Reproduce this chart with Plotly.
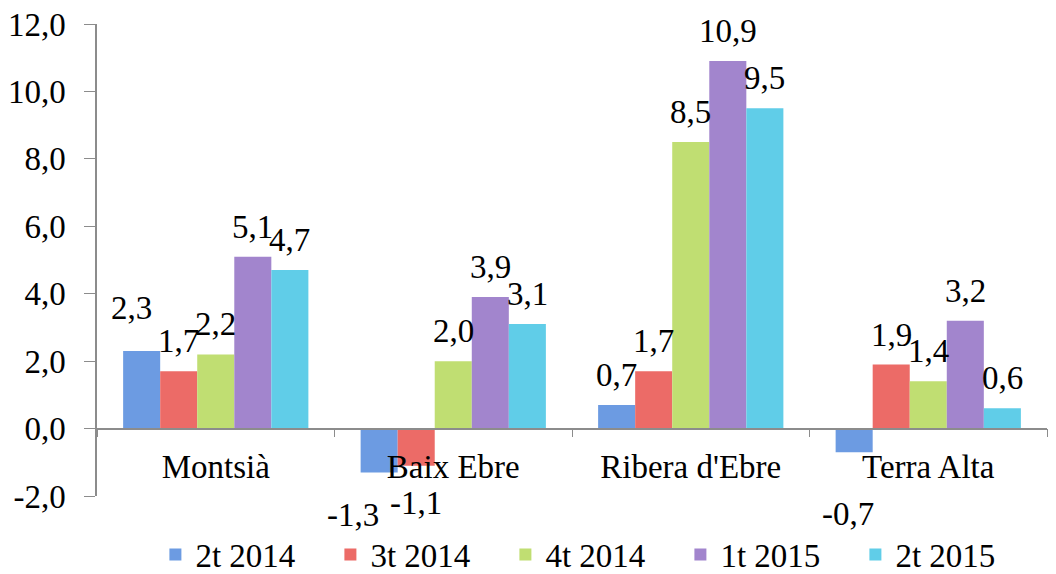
import plotly.graph_objects as go

categories = ["Montsià", "Baix Ebre", "Ribera d'Ebre", "Terra Alta"]
series_names = ["2t 2014", "3t 2014", "4t 2014", "1t 2015", "2t 2015"]
s_2t2014 = [2.3, -1.3, 0.7, -0.7]
s_3t2014 = [1.7, -1.1, 1.7, 1.9]
s_4t2014 = [2.2, 2.0, 8.5, 1.4]
s_1t2015 = [5.1, 3.9, 10.9, 3.2]
s_2t2015 = [4.7, 3.1, 9.5, 0.6]
y_ticks = [-2, 0, 2, 4, 6, 8, 10, 12]

series = [s_2t2014, s_3t2014, s_4t2014, s_1t2015, s_2t2015]
colors = ["#6c9be2", "#ec6b67", "#c0de72", "#a285cd", "#60cde8"]

# label nudges (px) where the original moved a data label away from its default spot
label_nudge = {(0, 0): (-10, -13), (0, 1): (-26, 6), (0, 3): (-6, 25)}

FONT = "Liberation Serif"
FS = 33
# page body has an 8px default margin; size the figure to fit the 1056x574 window
W, H = 1048, 566
ML, MR, MT, MB = 89, 9, 16, 78
BARGAP = 0.22


def fmt(v):
    return f"{v:.1f}".replace(".", ",")


fig = go.Figure()
for name, vals, c in zip(series_names, series, colors):
    fig.add_trace(go.Bar(
        x=categories, y=vals, name=name,
        marker=dict(color=c, line=dict(width=0)),
    ))

plot_w = W - ML - MR
cat_w = plot_w / len(categories)
bar_w = cat_w * (1 - BARGAP) / len(series)

annotations = []
for i, vals in enumerate(series):
    for j, (cat, v) in enumerate(zip(categories, vals)):
        pos = v >= 0
        dx, dy = label_nudge.get((i, j), (0, 0))
        annotations.append(dict(
            x=cat, y=v, xref="x", yref="y", text=fmt(v), showarrow=False,
            xshift=(i - (len(series) - 1) / 2) * bar_w + dx,
            yshift=(30 if pos else -37) - dy,
            yanchor="middle", xanchor="center",
            font=dict(family=FONT, size=FS, color="#000"),
        ))

ymin, ymax = -2, 12
fig.update_layout(
    width=W, height=H,
    margin=dict(l=ML, r=MR, t=MT, b=MB, autoexpand=False),
    paper_bgcolor="white", plot_bgcolor="white",
    barmode="group", bargap=BARGAP, bargroupgap=0,
    font=dict(family=FONT, size=FS, color="#000"),
    annotations=annotations,
    showlegend=True,
    legend=dict(orientation="h", x=0.522, xanchor="center", y=-0.124, yanchor="middle",
                font=dict(family=FONT, size=FS), entrywidth=130, entrywidthmode="pixels",
                itemclick=False),
    xaxis=dict(
        anchor="free", position=(0 - ymin) / (ymax - ymin), automargin=False,
        showline=True, linecolor="#8c8c8c", linewidth=1.5,
        ticks="outside", tickson="boundaries", ticklen=8, tickcolor="#8c8c8c",
        showgrid=False, ticklabelstandoff=9,
        tickfont=dict(family=FONT, size=FS),
    ),
    yaxis=dict(
        range=[ymin, ymax], tickvals=y_ticks, ticktext=[fmt(t) for t in y_ticks],
        automargin=False, ticklabeloverflow="allow",
        showline=True, linecolor="#8c8c8c", linewidth=1.5,
        ticks="outside", ticklen=11, tickcolor="#8c8c8c",
        showgrid=False, zeroline=False, ticklabelstandoff=12,
        tickfont=dict(family=FONT, size=FS),
    ),
)

fig.write_html("out.html")
